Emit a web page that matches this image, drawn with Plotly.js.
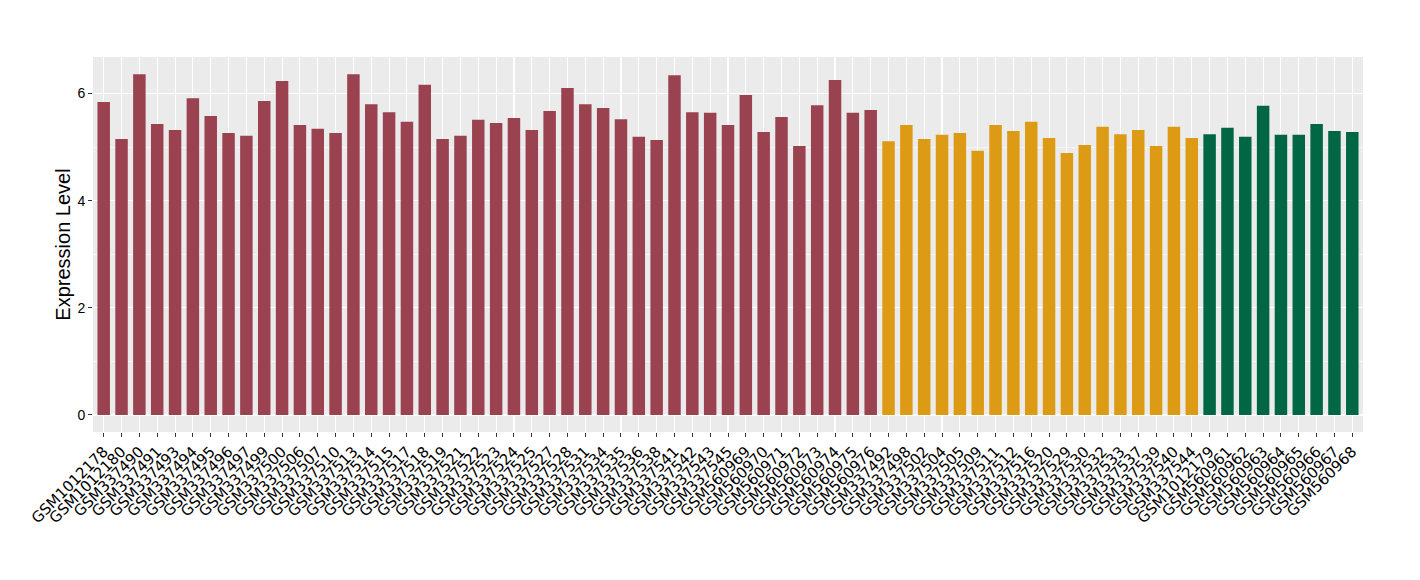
<!DOCTYPE html>
<html>
<head>
<meta charset="utf-8">
<script src="https://cdn.plot.ly/plotly-3.0.1.min.js"></script>
<style>html,body{margin:0;padding:0;background:#fff;}#chart{width:1420px;height:580px;}</style>
</head>
<body>
<div id="chart"></div>
<script>
const samples = [
  "GSM1012178","GSM1012180","GSM337490","GSM337491","GSM337493","GSM337494","GSM337495","GSM337496","GSM337497","GSM337499",
  "GSM337500","GSM337506","GSM337507","GSM337510","GSM337513","GSM337514","GSM337515","GSM337517","GSM337518","GSM337519",
  "GSM337521","GSM337522","GSM337523","GSM337524","GSM337525","GSM337527","GSM337528","GSM337531","GSM337534","GSM337535",
  "GSM337536","GSM337538","GSM337541","GSM337542","GSM337543","GSM337545","GSM560969","GSM560970","GSM560971","GSM560972",
  "GSM560973","GSM560974","GSM560975","GSM560976",
  "GSM337492","GSM337498","GSM337502","GSM337504","GSM337505","GSM337509","GSM337511","GSM337512","GSM337516","GSM337520",
  "GSM337529","GSM337530","GSM337532","GSM337533","GSM337537","GSM337539","GSM337540","GSM337544",
  "GSM1012179","GSM560961","GSM560962","GSM560963","GSM560964","GSM560965","GSM560966","GSM560967","GSM560968"
];
const values = [
  5.84,5.15,6.36,5.43,5.32,5.91,5.58,5.26,5.21,5.86,
  6.23,5.41,5.34,5.26,6.36,5.80,5.65,5.47,6.16,5.15,
  5.21,5.51,5.45,5.54,5.32,5.67,6.10,5.80,5.73,5.52,
  5.19,5.13,6.34,5.65,5.64,5.41,5.97,5.28,5.56,5.02,
  5.78,6.25,5.64,5.69,
  5.11,5.41,5.15,5.23,5.26,4.93,5.41,5.30,5.47,5.17,
  4.89,5.04,5.38,5.24,5.32,5.02,5.38,5.17,
  5.24,5.36,5.19,5.77,5.23,5.23,5.43,5.30,5.28
];
const groups = [].concat(Array(44).fill("A"), Array(18).fill("B"), Array(9).fill("C"));
const groupColors = {A:"#9A4250", B:"#DD9A14", C:"#016644"};
const yTicks = [0,2,4,6];

const trace = {
  type: "bar",
  x: samples,
  y: values,
  width: 0.7,
  marker: {color: groups.map(g => groupColors[g]), line: {width: 0}},
  hoverinfo: "x+y"
};

const layout = {
  width: 1420, height: 580,
  margin: {l: 93, r: 57, t: 57, b: 148},
  paper_bgcolor: "#ffffff",
  plot_bgcolor: "#EBEBEB",
  showlegend: false,
  bargap: 0.3,
  font: {family: "Liberation Sans, Arial, sans-serif", color: "#000"},
  xaxis: {
    type: "category",
    categoryorder: "array",
    categoryarray: samples,
    tickmode: "array",
    tickvals: samples,
    ticktext: samples,
    tickangle: -45,
    tickfont: {size: 15, color: "#000", family: "DejaVu Sans, sans-serif"},
    showgrid: true, gridcolor: "#ffffff", gridwidth: 1.1,
    ticks: "outside", ticklen: 4, tickcolor: "#333", tickwidth: 1,
    zeroline: false, showline: false,
    automargin: false,
    range: [-0.6, samples.length - 0.4]
  },
  yaxis: {
    title: {text: "Expression Level", font: {size: 20, color: "#000"}, standoff: 1},
    automargin: true,
    range: [-0.318, 6.68],
    tickvals: yTicks,
    ticktext: yTicks.map(String),
    tickfont: {size: 14, color: "#000"},
    showgrid: true, gridcolor: "#ffffff", gridwidth: 1.1,
    minor: {tickvals: [1,3,5], showgrid: true, gridcolor: "#ffffff", gridwidth: 0.5, ticks: ""},
    ticks: "outside", ticklen: 4, tickcolor: "#333", tickwidth: 1,
    zeroline: false, showline: false
  }
};

Plotly.newPlot("chart", [trace], layout, {displayModeBar: false, staticPlot: true});
</script>
</body>
</html>
